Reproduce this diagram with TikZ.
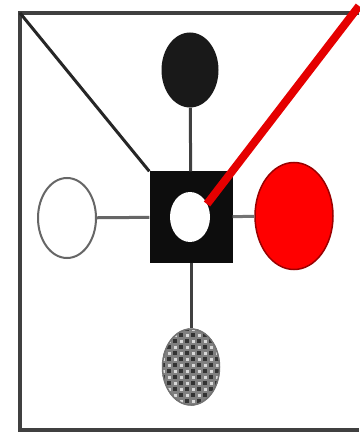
\documentclass[tikz,border=0pt]{standalone}
\usetikzlibrary{shapes.geometric}
\begin{document}
\begin{tikzpicture}[x=1pt,y=-1pt,
  conn/.style={draw=black!75,line width=3pt},
  oval/.style={ellipse,inner sep=0pt}]
\useasboundingbox (0,0) rectangle (359,435);
\fill[white] (0,0) rectangle (359,435);
% frame
\coordinate (tl) at (20,13);
\coordinate (tr) at (359,6);
\draw[black!75,line width=3.5pt] (359,13) -- (tl) -- (20,430) -- (359,430);
% nodes
\node[oval,fill=black!90,minimum width=57pt,minimum height=75pt] (top) at (190,70) {};
\node[oval,draw=black!60,line width=2pt,fill=white,minimum width=58pt,minimum height=80pt] (left) at (67,218) {};
\node[oval,draw=red!60!black,line width=1.5pt,fill=red,minimum width=78pt,minimum height=107pt] (right) at (294,216) {};
\node[rectangle,fill=black!95,minimum width=83pt,minimum height=91pt,inner sep=0pt] (sq) at (191,217) {};
\node[oval,fill=white,minimum width=40pt,minimum height=50pt] (hole) at (190,217) {};
\node[oval,minimum width=58pt,minimum height=77pt] (bot) at (191,367) {};
% checkered bottom oval
\begin{scope}
  \clip (191,367) ellipse [x radius=29pt,y radius=38.5pt];
  \fill[black!50] (160,326) rectangle (222,408);
  \foreach \i in {0,...,10} {
    \foreach \j in {0,...,14} {
      \pgfmathtruncatemacro{\p}{mod(\i+\j,2)}
      \ifnum\p=0
        \fill[black!80] (161+\i*6,327+\j*6) rectangle ++(4,4);
      \else
        \fill[white!85!black] (161.5+\i*6,327.5+\j*6) rectangle ++(3,3);
      \fi
    }
  }
\end{scope}
\draw[black!55,line width=1.5pt] (bot.center) ellipse [x radius=28.5pt,y radius=38pt];
% connectors
\draw[conn] (top) -- (sq);
\draw[conn] (sq) -- (bot);
\draw[conn,draw=black!60] (left) -- (sq);
\draw[conn,draw=black!55] (sq) -- (right);
\draw[black!85,line width=3pt] (tl) -- (sq.north west);
\coordinate (redend) at (207,204);
\draw[red!90!black,line width=8pt] (tr) -- (redend);
\end{tikzpicture}
\end{document}
